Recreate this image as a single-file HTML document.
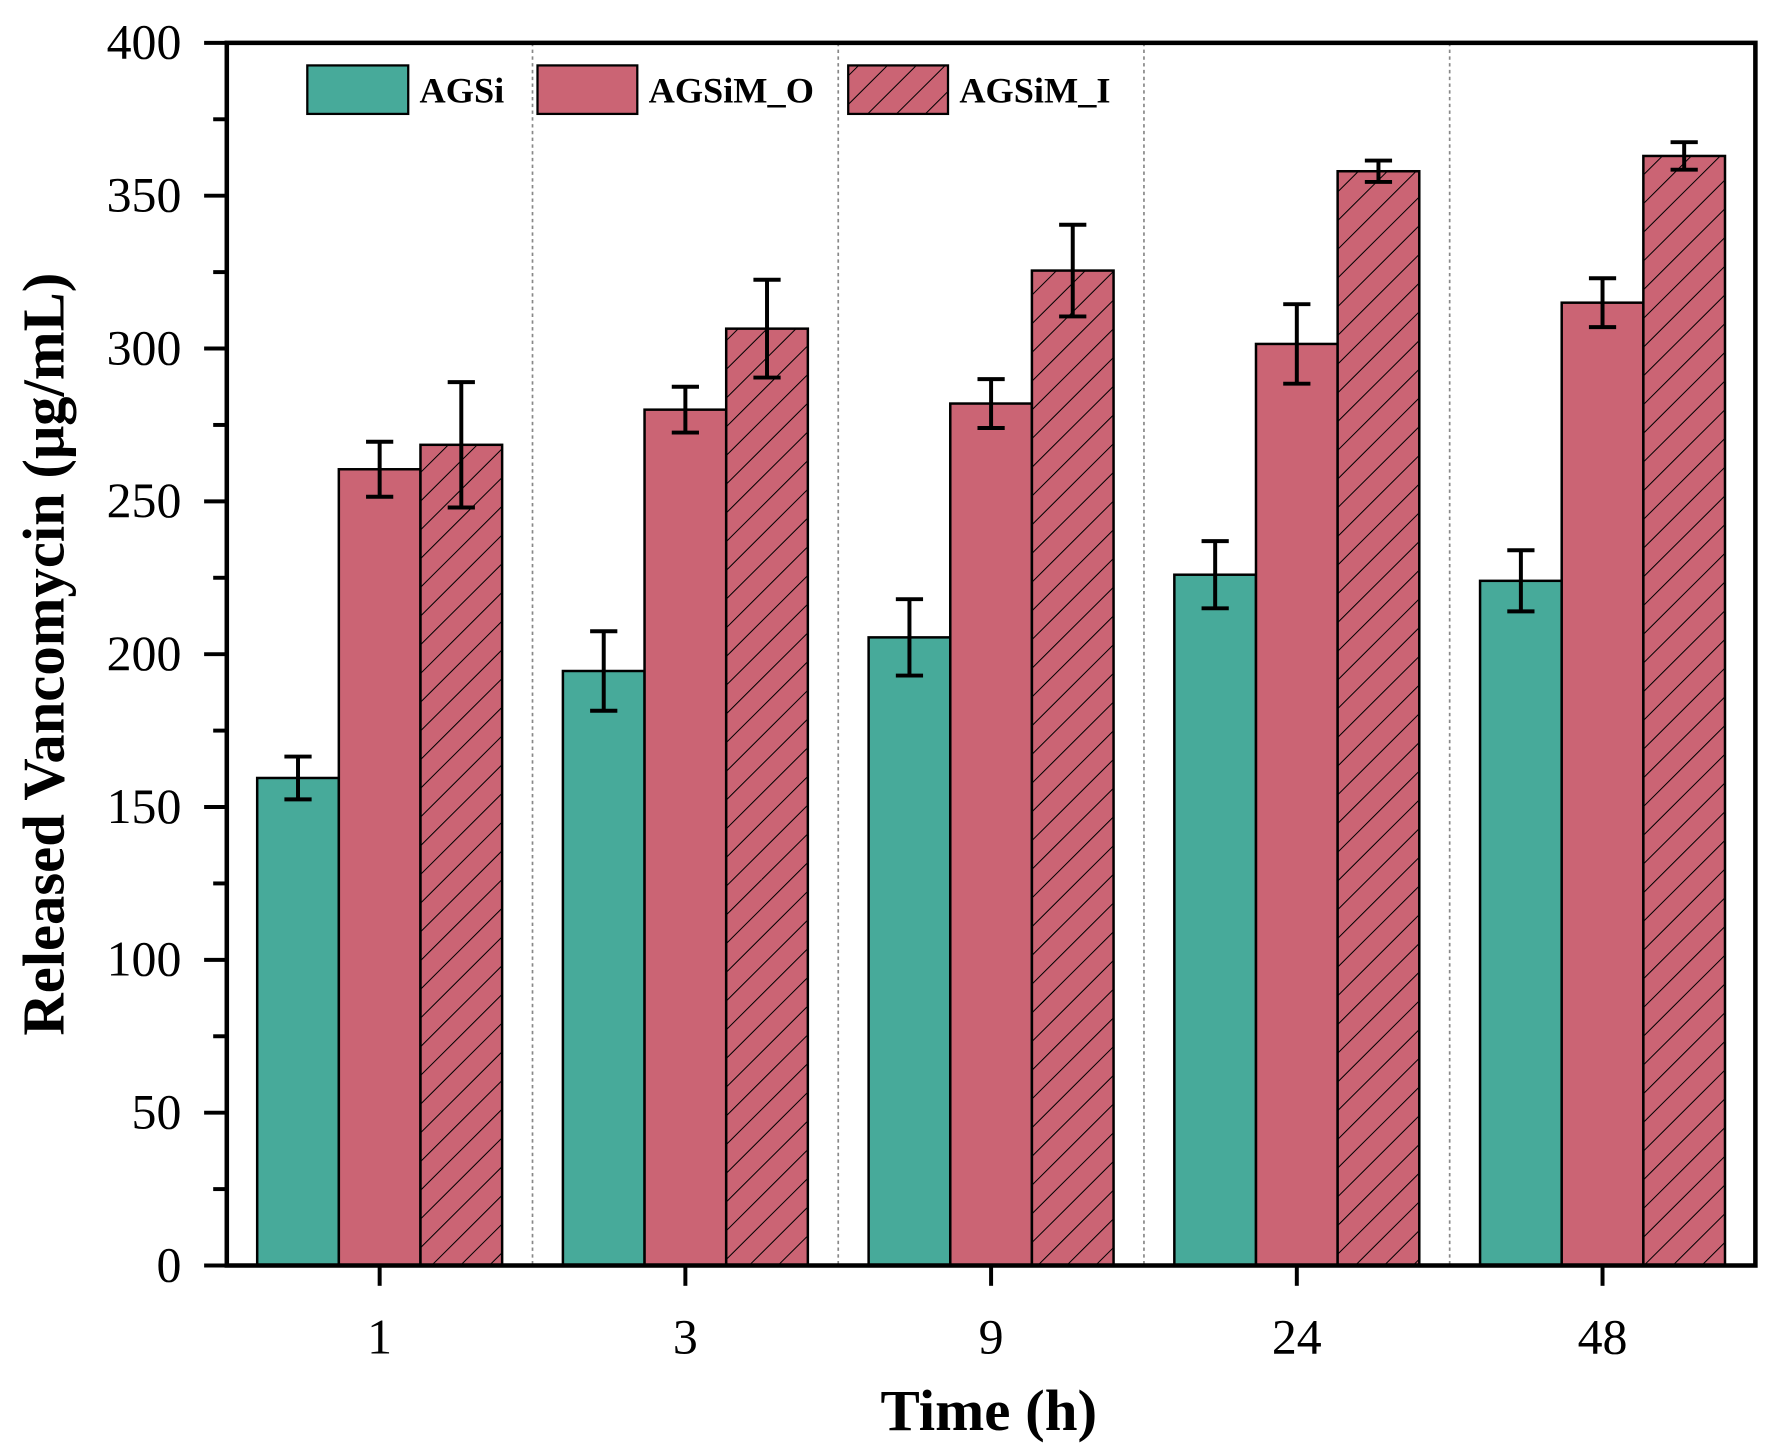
<!DOCTYPE html>
<html><head><meta charset="utf-8"><style>html,body{margin:0;padding:0;background:#fff}svg{display:block}text{font-family:"Liberation Serif",serif;fill:#000}</style></head>
<body>
<svg id="chart" width="1769" height="1455" viewBox="0 0 1560 1290" preserveAspectRatio="none" xmlns="http://www.w3.org/2000/svg">
<defs><pattern id="hatch" width="18" height="18" patternUnits="userSpaceOnUse" patternTransform="rotate(45)"><rect width="18" height="18" fill="#cb6474"/><line x1="0" y1="0" x2="0" y2="18" stroke="#000" stroke-width="1.8"/></pattern></defs>
<g id="grid"></g><g id="bars"></g>
<rect x="200" y="38" width="1348" height="1084" fill="none" stroke="#000" stroke-width="4"/>
<g id="axes"></g>
<text transform="translate(56,580) rotate(-90)" text-anchor="middle" font-size="52" font-weight="bold">Released Vancomycin (μg/mL)</text>
<text x="872" y="1268" text-anchor="middle" font-size="52" font-weight="bold">Time (h)</text>
<g>
<rect x="271" y="58" width="89" height="43" fill="#47aa9a" stroke="#000" stroke-width="2"/>
<text x="370" y="91" font-size="32" font-weight="bold">AGSi</text>
<rect x="474" y="58" width="88" height="43" fill="#cb6474" stroke="#000" stroke-width="2"/>
<text x="572" y="91" font-size="32" font-weight="bold">AGSiM_O</text>
<rect x="748" y="58" width="88" height="43" fill="url(#hatch)" stroke="#000" stroke-width="2"/>
<text x="846" y="91" font-size="32" font-weight="bold">AGSiM_I</text>
</g>
</svg>
<script>
const categories=["1","3","9","24","48"];
const agsi=[159.5,194.5,205.5,226,224];
const agsiErr=[7,13,12.5,11,10];
const agsimO=[260.5,280,282,301.5,315];
const agsimOErr=[9,7.5,8,13,8];
const agsimI=[268.5,306.5,325.5,358,363];
const agsimIErr=[20.5,16,15,3.5,4.5];
const yTicks=[0,50,100,150,200,250,300,350,400];
const NS="http://www.w3.org/2000/svg";
const L=200,R=1548,T=38,B=1122,yMax=400;
const gw=(R-L)/categories.length;
const y=v=>B-(v/yMax)*(B-T);
const xc=i=>L+gw*(i+0.5);
function mk(tag,attrs,parent){const e=document.createElementNS(NS,tag);for(const k in attrs)e.setAttribute(k,attrs[k]);parent.appendChild(e);return e;}
const grid=document.getElementById('grid'),bars=document.getElementById('bars'),axes=document.getElementById('axes');
for(let i=1;i<categories.length;i++){const l=mk('line',{x1:L+gw*i,x2:L+gw*i,y1:T,y2:B,stroke:'#888','stroke-width':1.5,'stroke-dasharray':'3,3'},grid);

}
const series=[[agsi,agsiErr,'#47aa9a','agsi'],[agsimO,agsimOErr,'#cb6474','agsim-o'],[agsimI,agsimIErr,'url(#hatch)','agsim-i']];
const bw=72;
series.forEach((s,si)=>{s[0].forEach((v,i)=>{const x0=xc(i)-108+si*bw;
const r=mk('rect',{x:x0,y:y(v),width:bw,height:B-y(v),fill:s[2],stroke:'#000','stroke-width':2.2},bars);


const cx=x0+bw/2,e=s[1][i];
const g=mk('path',{d:`M${cx-12},${y(v+e)}H${cx+12}M${cx},${y(v+e)}V${y(v-e)}M${cx-12},${y(v-e)}H${cx+12}`,stroke:'#000','stroke-width':3.5,fill:'none'},bars);

});});
yTicks.forEach(t=>{mk('line',{x1:180,x2:200,y1:y(t),y2:y(t),stroke:'#000','stroke-width':3.5},axes);
const tx=mk('text',{x:160,y:y(t)+14,'text-anchor':'end','font-size':44},axes);tx.textContent=t;


if(t<yMax)mk('line',{x1:188,x2:200,y1:y(t+25),y2:y(t+25),stroke:'#000','stroke-width':3.5},axes);});
categories.forEach((c,i)=>{mk('line',{x1:xc(i),x2:xc(i),y1:B,y2:B+18,stroke:'#000','stroke-width':3.5},axes);
const tx=mk('text',{x:xc(i),y:B+78,'text-anchor':'middle','font-size':44},axes);tx.textContent=c;

});
</script>
</body></html>
